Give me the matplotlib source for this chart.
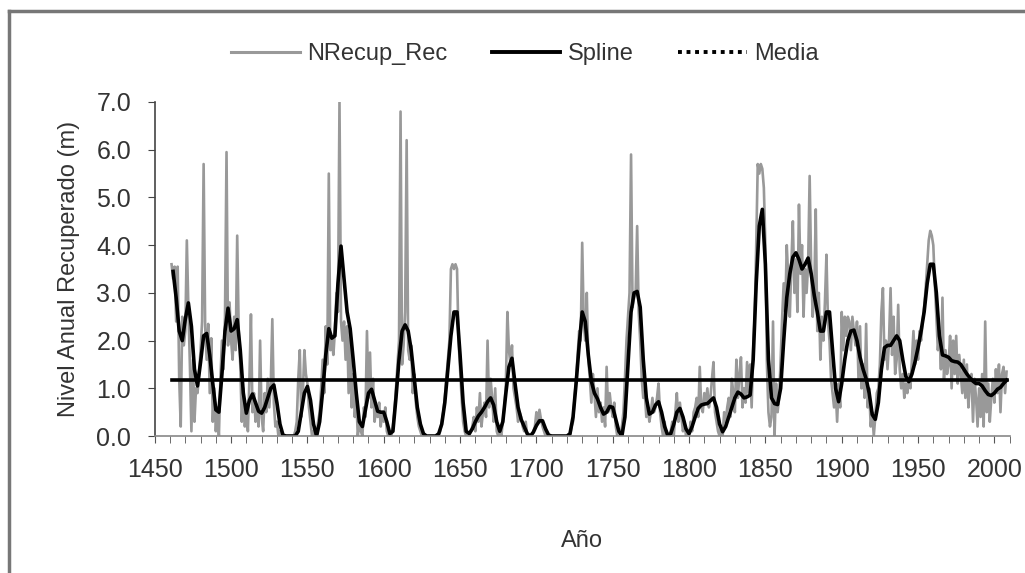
import numpy as np
import matplotlib
matplotlib.use("Agg")
import matplotlib.pyplot as plt
from matplotlib.lines import Line2D

# annual recovered level (m), 1461-2008, one row per decade
nrecup = [
    3.6, 3.3, 3.55, 2.4, 3.55, 1.2, 0.2, 2.5, 1.9,                # 1461-1469
    2.2, 4.1, 2.7, 1.5, 0.1, 1.6, 0.3, 1.0, 0.9, 1.3,            # 1470
    1.8, 2.4, 5.7, 2.3, 1.6, 2.35, 0.9, 2.05, 0.3, 1.0,          # 1480
    0.1, 0.6, 0.0, 1.2, 2.0, 1.4, 2.5, 5.95, 1.9, 2.8,           # 1490
    2.0, 1.6, 2.5, 1.8, 4.2, 2.2, 1.5, 0.3, 1.0, 0.2,            # 1500
    0.6, 0.1, 1.2, 2.55, 0.5, 0.9, 0.3, 0.6, 0.2, 2.0,           # 1510
    0.4, 0.1, 0.9, 0.5, 1.2, 0.6, 1.1, 2.45, 0.7, 0.2,           # 1520
    0.3, 0.0, 0.1, 0.0, 0.0, 0.0, 0.0, 0.0, 0.0, 0.0,            # 1530
    0.0, 0.0, 0.1, 0.3, 1.2, 1.8, 0.4, 0.9, 1.8, 1.3,            # 1540
    1.1, 0.6, 0.3, 0.0, 0.1, 0.0, 0.0, 0.3, 0.5, 1.0,            # 1550
    1.6, 0.9, 2.3, 1.5, 5.5, 1.8, 2.0, 1.7, 2.2, 3.0,            # 1560
    2.6, 7.0, 2.4, 2.0, 2.4, 1.6, 2.3, 0.9, 2.2, 0.6,            # 1570
    1.3, 0.4, 0.8, 0.0, 0.3, 0.1, 0.0, 0.6, 0.4, 2.2,            # 1580
    0.8, 1.75, 0.6, 1.2, 0.3, 0.6, 0.4, 0.7, 0.2, 0.5,           # 1590
    0.3, 0.6, 0.1, 0.0, 0.0, 0.0, 0.2, 0.5, 1.0, 1.5,            # 1600
    2.0, 6.8, 1.5, 1.9, 2.6, 6.2, 1.8, 1.6, 1.9, 0.9,            # 1610
    1.3, 0.7, 0.4, 0.2, 0.1, 0.0, 0.0, 0.0, 0.0, 0.0,            # 1620
    0.0, 0.0, 0.0, 0.0, 0.0, 0.0, 0.0, 0.1, 0.3, 0.5,            # 1630
    0.8, 1.2, 1.6, 2.0, 3.5, 3.6, 3.5, 3.6, 3.5, 2.0,            # 1640
    1.4, 0.8, 0.3, 0.1, 0.0, 0.0, 0.0, 0.1, 0.2, 0.4,            # 1650
    0.1, 0.6, 0.3, 0.9, 0.2, 0.5, 0.7, 0.4, 2.0, 0.6,            # 1660
    1.2, 0.8, 0.3, 1.0, 0.1, 0.0, 0.1, 0.0, 0.3, 0.6,            # 1670
    1.1, 2.6, 1.8, 1.5, 1.9, 1.0, 0.8, 0.6, 0.3, 0.5,            # 1680
    0.4, 0.2, 0.1, 0.3, 0.0, 0.0, 0.0, 0.0, 0.1, 0.2,            # 1690
    0.5, 0.3, 0.55, 0.35, 0.2, 0.1, 0.0, 0.0, 0.0, 0.0,          # 1700
    0.0, 0.0, 0.0, 0.0, 0.0, 0.0, 0.0, 0.0, 0.0, 0.0,            # 1710
    0.0, 0.0, 0.0, 0.2, 0.3, 0.8, 1.2, 1.7, 2.2, 2.0,            # 1720
    4.05, 2.4, 2.0, 3.0, 1.6, 1.2, 0.7, 1.3, 0.9, 0.4,           # 1730
    1.0, 0.5, 0.7, 0.3, 0.6, 0.2, 1.45, 0.5, 0.9, 0.6,           # 1740
    0.4, 0.7, 0.2, 0.0, 0.0, 0.0, 0.2, 0.5, 1.2, 2.0,            # 1750
    2.5, 3.0, 5.9, 2.7, 2.9, 3.0, 4.4, 2.6, 2.0, 1.2,            # 1760
    0.8, 0.9, 0.4, 0.6, 0.3, 0.5, 0.8, 0.5, 0.6, 0.8,            # 1770
    1.1, 0.5, 0.2, 0.0, 0.3, 0.0, 0.0, 0.0, 0.1, 0.3,            # 1780
    0.0, 0.5, 0.9, 0.3, 0.7, 0.4, 0.1, 0.3, 0.0, 0.1,            # 1790
    0.0, 0.3, 0.1, 0.5, 0.6, 0.8, 0.4, 1.45, 0.6, 0.5,           # 1800
    0.9, 0.7, 1.0, 0.6, 0.8, 1.2, 1.55, 0.5, 0.3, 0.1,           # 1810
    0.0, 0.2, 0.0, 0.5, 0.3, 0.6, 0.8, 0.4, 1.2, 0.9,            # 1820
    0.5, 1.6, 0.8, 1.3, 1.65, 0.6, 1.0, 0.7, 1.55, 0.9,          # 1830
    1.5, 0.6, 1.8, 2.5, 4.0, 5.7, 5.5, 5.7, 5.6, 5.2,            # 1840
    4.0, 1.5, 0.5, 0.2, 0.4, 2.4, 0.0, 1.1, 0.5, 0.8,            # 1850
    1.6, 2.5, 3.2, 2.6, 4.0, 3.3, 2.5, 3.6, 4.5, 3.0,            # 1860
    3.7, 2.6, 4.85, 3.4, 4.0, 2.5, 3.5, 3.0, 3.6, 5.45,          # 1870
    3.5, 2.5, 3.0, 4.75, 2.2, 3.0, 1.6, 2.5, 2.0, 2.8,           # 1880
    3.8, 2.4, 2.0, 1.2, 0.9, 0.6, 1.0, 0.3, 1.1, 0.6,            # 1890
    2.6, 1.8, 2.5, 2.1, 2.5, 2.4, 1.8, 2.5, 2.2, 1.9,            # 1900
    2.4, 1.2, 2.3, 1.0, 1.5, 0.8, 2.35, 0.6, 1.0, 0.2,           # 1910
    0.5, 0.0, 0.4, 0.9, 1.0, 1.5, 2.6, 3.1, 1.6, 2.0,            # 1920
    1.4, 2.0, 3.1, 1.7, 2.5, 1.3, 1.6, 2.75, 1.4, 1.0,           # 1930
    1.3, 0.8, 1.1, 0.9, 1.3, 1.0, 1.6, 2.2, 1.5, 2.0,            # 1940
    1.6, 2.2, 2.0, 2.4, 2.7, 3.1, 3.6, 4.1, 4.3, 4.2,            # 1950
    4.0, 3.2, 2.5, 1.8, 2.2, 1.4, 2.9, 1.2, 1.8, 1.3,            # 1960
    1.5, 2.1, 1.0, 2.0, 1.3, 2.1, 1.1, 1.7, 1.3, 0.9,            # 1970
    1.6, 0.8, 1.5, 0.6, 1.1, 1.3, 0.3, 1.2, 0.8, 0.2,            # 1980
    1.0, 0.4, 1.3, 0.2, 2.4, 0.5, 1.1, 0.3, 0.8, 1.2,            # 1990
    0.7, 1.4, 0.9, 1.5, 0.5, 1.3, 1.45, 0.9, 1.35,               # 2000-2008
]
years = np.arange(1461, 1461 + len(nrecup))

# smoothing spline, read every 2 years from 1462
spline = [
    3.45, 2.9, 2.2, 2.0, 2.45, 2.79, 2.3, 1.4, 1.05, 1.55,
    2.1, 2.15, 1.7, 1.1, 0.55, 0.5, 1.3, 2.2, 2.68, 2.2,
    2.25, 2.44, 1.8, 0.9, 0.48, 0.75, 0.88, 0.7, 0.52, 0.48,
    0.6, 0.8, 1.0, 1.07, 0.7, 0.25, 0.02, 0.0, 0.0, 0.0,
    0.0, 0.1, 0.5, 0.9, 1.04, 0.75, 0.25, 0.0, 0.3, 0.95,
    1.7, 2.25, 2.05, 2.1, 3.2, 3.98, 3.3, 2.6, 2.25, 1.6,
    0.9, 0.3, 0.2, 0.55, 0.9, 0.98, 0.75, 0.52, 0.5, 0.5,
    0.3, 0.05, 0.1, 0.8, 1.6, 2.2, 2.33, 2.2, 1.8, 1.2,
    0.6, 0.25, 0.05, 0.0, 0.0, 0.0, 0.0, 0.05, 0.25, 0.7,
    1.4, 2.1, 2.6, 2.6, 1.7, 0.7, 0.1, 0.05, 0.15, 0.3,
    0.42, 0.5, 0.6, 0.72, 0.8, 0.65, 0.3, 0.1, 0.3, 0.9,
    1.45, 1.63, 1.1, 0.6, 0.35, 0.2, 0.05, 0.0, 0.08, 0.22,
    0.32, 0.32, 0.15, 0.02, 0.0, 0.0, 0.0, 0.0, 0.0, 0.0,
    0.05, 0.4, 1.1, 1.9, 2.6, 2.4, 1.7, 1.15, 0.9, 0.78,
    0.6, 0.46, 0.5, 0.62, 0.6, 0.35, 0.1, 0.0, 0.4, 1.5,
    2.6, 3.0, 3.03, 2.7, 1.6, 0.8, 0.46, 0.5, 0.65, 0.72,
    0.5, 0.2, 0.02, 0.05, 0.25, 0.5, 0.58, 0.4, 0.15, 0.05,
    0.2, 0.4, 0.58, 0.65, 0.67, 0.68, 0.74, 0.8, 0.6, 0.25,
    0.09, 0.2, 0.4, 0.6, 0.8, 0.92, 0.88, 0.8, 0.82, 0.86,
    1.6, 3.2, 4.4, 4.75, 3.6, 1.6, 0.8, 0.68, 0.66, 1.0,
    2.0, 2.9, 3.4, 3.75, 3.84, 3.7, 3.5, 3.6, 3.73, 3.4,
    2.95, 2.6, 2.2, 2.2, 2.6, 2.6, 1.8, 1.0, 0.72, 1.1,
    1.6, 2.0, 2.2, 2.22, 2.0, 1.65, 1.4, 1.2, 0.9, 0.45,
    0.35, 0.7, 1.4, 1.85, 1.9, 1.9, 2.0, 2.1, 2.0, 1.6,
    1.25, 1.14, 1.3, 1.55, 1.85, 2.2, 2.6, 3.2, 3.6, 3.6,
    3.0, 2.1, 1.7, 1.68, 1.65, 1.58, 1.56, 1.55, 1.5, 1.4,
    1.3, 1.22, 1.15, 1.1, 1.1, 1.05, 0.95, 0.87, 0.85, 0.9,
    0.98, 1.02, 1.1, 1.17,
]
spline_years = np.arange(1462, 1462 + 2 * len(spline), 2)

media = 1.17

plt.rcParams['font.family'] = ['Liberation Sans', 'DejaVu Sans']

fig = plt.figure(figsize=(10.25, 5.73), dpi=100)
ax = fig.add_axes([0.151, 0.239, 0.834, 0.583])

ax.plot(years, nrecup, color='#999999', lw=1.9, label='NRecup_Rec')
ax.plot(spline_years, spline, color='black', lw=2.6, label='Spline',
        solid_joinstyle='round')
ax.plot([years[0], years[-1]], [media, media], color='black', lw=2.6)

ax.set_xlim(1450, 2010)
ax.set_ylim(0, 7)
ax.set_xticks(np.arange(1450, 2001, 50))
ax.set_xticks(np.arange(1450, 2011, 10), minor=True)
ax.set_yticks(np.arange(0, 7.1, 1))
ax.set_yticklabels([f'{v:.1f}' for v in np.arange(0, 7.1, 1)])

for s in ['top', 'right']:
    ax.spines[s].set_visible(False)
ax.spines['left'].set_color('#444444')
ax.spines['bottom'].set_color('#888888')
ax.spines['left'].set_linewidth(1.2)
ax.spines['bottom'].set_linewidth(1.2)

ax.tick_params(axis='both', labelsize=18, colors='#333333', direction='out')
ax.tick_params(axis='x', which='major', length=5, pad=11, color='#555555')
ax.tick_params(axis='x', which='minor', length=5, color='#555555')
ax.tick_params(axis='y', length=5, pad=12, color='#444444')

ax.set_xlabel('Año', fontsize=17, color='#333333')
ax.set_ylabel('Nivel Anual Recuperado (m)', fontsize=17, color='#333333')
ax.xaxis.set_label_coords(0.5, -0.28)
ax.yaxis.set_label_coords(-0.088, 0.5)

handles = [
    Line2D([], [], color='#999999', lw=2.2),
    Line2D([], [], color='black', lw=2.8),
    Line2D([], [], color='black', lw=2.8, linestyle=(0, (1, 1.2))),
]
fig.legend(handles, ['NRecup_Rec', 'Spline', 'Media'], loc='center',
           bbox_to_anchor=(0.512, 0.905), ncol=3, frameon=False,
           fontsize=17, handlelength=2.9, handletextpad=0.3,
           columnspacing=1.9, labelcolor='#333333')

# grey frame along the top and left edges
fig.add_artist(Line2D([9 / 1025, 9 / 1025], [1 - 11 / 573, 0], color='#777777', lw=2.5))
fig.add_artist(Line2D([9 / 1025, 1], [1 - 11 / 573, 1 - 11 / 573], color='#777777', lw=2.5))

fig.savefig('out.png', dpi=100)
